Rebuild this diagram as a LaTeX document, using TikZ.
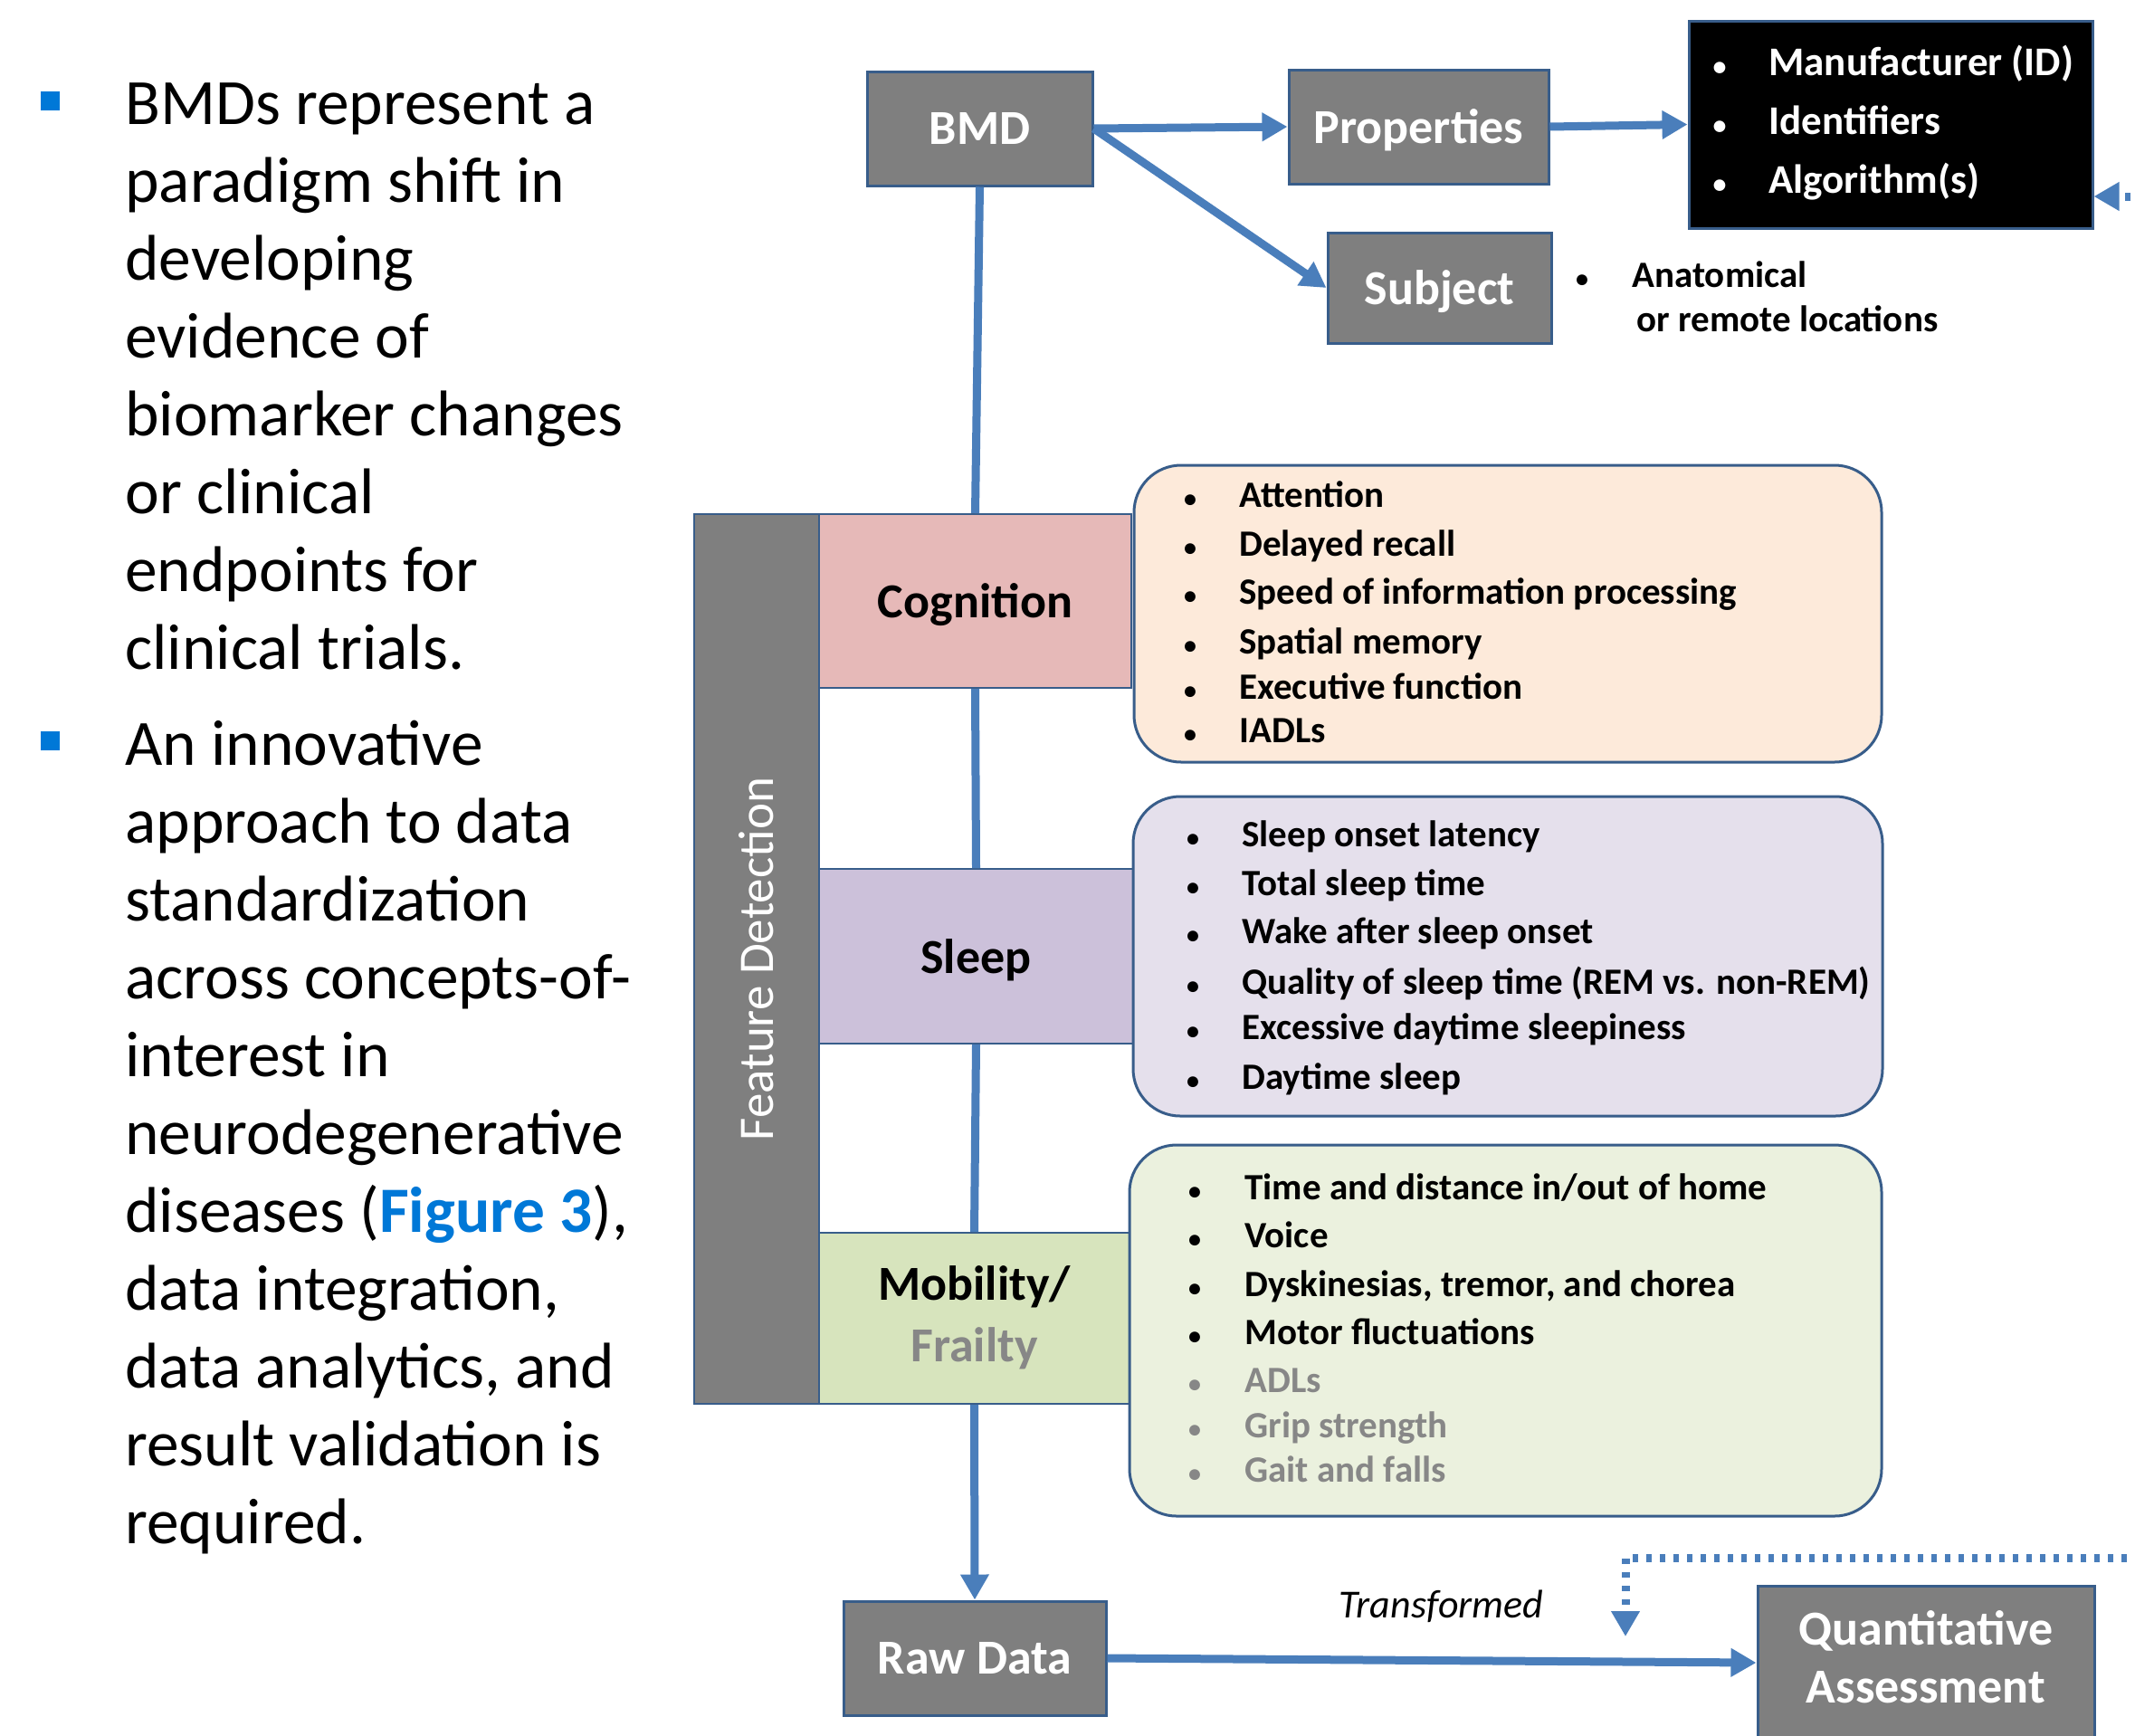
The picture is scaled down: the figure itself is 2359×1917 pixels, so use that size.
\documentclass[tikz,border=0pt]{standalone}
\usepackage{fontspec}
\setmainfont{Carlito}
\usetikzlibrary{arrows.meta}
\definecolor{arrowblue}{RGB}{74,126,187}
\definecolor{boxgray}{RGB}{127,127,127}
\definecolor{edgeblue}{RGB}{56,93,138}
\definecolor{bulletblue}{RGB}{0,120,215}
\definecolor{cogcat}{RGB}{230,185,184}
\definecolor{coglist}{RGB}{253,234,218}
\definecolor{slpcat}{RGB}{204,193,218}
\definecolor{slplist}{RGB}{229,224,236}
\definecolor{mobcat}{RGB}{215,228,189}
\definecolor{moblist}{RGB}{235,241,222}
\definecolor{fadedtext}{RGB}{135,135,135}
\begin{document}
\begin{tikzpicture}[x=0.5pt,y=-0.5pt,
  gbox/.style={draw=edgeblue, line width=1.5pt, fill=boxgray, inner sep=0pt, text=white, font=\fontsize{27}{32}\selectfont\bfseries},
  catbox/.style={draw=edgeblue, line width=1pt, inner sep=0pt, font=\fontsize{27}{34}\selectfont\bfseries},
  nodepth/.style={text depth=0pt},
  listbox/.style={draw=edgeblue, line width=1.5pt, rounded corners=26pt, inner sep=0pt},
  conn/.style={draw=arrowblue, line width=4.5pt},
  arr/.style={conn, -{Triangle[length=14pt,width=15pt]}},
  fb/.style={draw=arrowblue, line width=4.5pt, dash pattern=on 2.8pt off 4.7pt, -{Triangle[length=14pt,width=15pt]}},
  bul/.style={anchor=base, inner sep=0pt, font=\fontsize{14}{18}\selectfont\bfseries},
  itm/.style={anchor=base west, inner sep=0pt, font=\fontsize{20.5}{24}\selectfont\bfseries},
  wbul/.style={anchor=base, inner sep=0pt, text=white, font=\fontsize{15}{18}\selectfont\bfseries},
  witm/.style={anchor=base west, inner sep=0pt, text=white, font=\fontsize{22.5}{26}\selectfont\bfseries},
  sqb/.style={fill=bulletblue, minimum size=10.5pt, inner sep=0pt},
  para/.style={anchor=base west, inner sep=0pt, font=\fontsize{35.7}{43}\selectfont}
]
\useasboundingbox (0,0) rectangle (2359,1917);
\fill[white] (0,0) rectangle (2359,1917);

% left text
\node[sqb] (sq1) at (55.5,111.5) {};
\node[para] (p1) at (138,137) {\parbox[t]{340pt}{\raggedright
BMDs represent a\\paradigm shift in\\developing\\evidence of\\biomarker changes\\or clinical\\endpoints for\\clinical trials.}};
\node[sqb] (sq2) at (55.5,818.5) {};
\node[para] (p2) at (138,845) {\parbox[t]{340pt}{\raggedright
An innovative\\approach to data\\standardization\\across concepts-of-\\interest in\\neurodegenerative\\diseases ({\bfseries\color{bulletblue}Figure 3}),\\data integration,\\data analytics, and\\result validation is\\required.}};

% top boxes
\node[gbox, minimum width=124.5pt, minimum height=63pt] (bmd) at (1082.5,142) {BMD};
\node[gbox, nodepth, minimum width=143.5pt, minimum height=63pt] (prop) at (1567.5,140) {Properties};
\node[gbox, nodepth, minimum width=123.5pt, minimum height=61pt] (subj) at (1590.5,318) {Subject};
\node[draw=edgeblue, line width=1.5pt, fill=black, inner sep=0pt, minimum width=223pt, minimum height=114.5pt] (ident) at (2089,137.5) {};
\foreach \y/\t [count=\i] in {83/{Manufacturer (ID)}, 148/{Identifiers}, 213/{Algorithm(s)}}{
  \node[wbul] (ib\i) at (1900,\y) {•};
  \node[witm] (it\i) at (1954,\y) {\t};
}
\node[bul] (sb) at (1748,317) {•};
\node[itm] (s1) at (1803,317) {Anatomical};
\node[itm] (s2) at (1808,366) {or remote locations};

% feature detection column
\node[draw=edgeblue, line width=1pt, fill=boxgray, inner sep=0pt, minimum width=69pt, minimum height=491.5pt] (fd) at (836,1059.5) {};
\node[rotate=90, text=white, inner sep=0pt, font=\fontsize{27.5}{33}\selectfont] (fdt) at (fd.center) {Feature Detection};

% category boxes
\node[catbox, nodepth, fill=cogcat, minimum width=172.5pt, minimum height=96pt] (cog) at (1077.5,664) {Cognition};
\node[catbox, nodepth, fill=slpcat, minimum width=173.5pt, minimum height=96.5pt] (slp) at (1078.5,1056.5) {Sleep};
\node[catbox, fill=mobcat, minimum width=171.5pt, minimum height=94.5pt] (mob) at (1076.5,1456.5) {\begin{tabular}{@{}c@{}}Mobility/\\\textcolor{fadedtext}{Frailty}\end{tabular}};

% list boxes
\node[listbox, fill=coglist, minimum width=413pt, minimum height=164pt] (cogl) at (1666,678) {};
\node[listbox, fill=slplist, minimum width=414pt, minimum height=176.5pt] (slpl) at (1666,1056.5) {};
\node[listbox, fill=moblist, minimum width=415.5pt, minimum height=205pt] (mobl) at (1663.5,1470) {};

\foreach \y/\t [count=\i] in {560/{Attention}, 614/{Delayed recall}, 667/{Speed of information processing}, 722/{Spatial memory}, 772/{Executive function}, 820/{IADLs}}{
  \node[bul] (cb\i) at (1315,\y) {•};
  \node[itm] (ct\i) at (1369,\y) {\t};
}
\foreach \y/\t [count=\i] in {935/{Sleep onset latency}, 989/{Total sleep time}, 1042/{Wake after sleep onset}, 1098/{Quality of sleep time (REM vs. non-REM)}, 1148/{Excessive daytime sleepiness}, 1203/{Daytime sleep}}{
  \node[bul] (sb\i) at (1318,\y) {•};
  \node[itm] (st\i) at (1372,\y) {\t};
}
\foreach \y/\t [count=\i] in {1325/{Time and distance in/out of home}, 1378/{Voice}, 1432/{Dyskinesias, tremor, and chorea}, 1485/{Motor fluctuations}}{
  \node[bul] (mb\i) at (1320,\y) {•};
  \node[itm] (mt\i) at (1375,\y) {\t};
}
\foreach \y/\t [count=\i from 5] in {1538/{ADLs}, 1588/{Grip strength}, 1637/{Gait and falls}}{
  \node[bul, text=fadedtext] (mb\i) at (1320,\y) {•};
  \node[itm, text=fadedtext] (mt\i) at (1375,\y) {\t};
}

% bottom boxes
\node[gbox, minimum width=145pt, minimum height=63pt] (raw) at (1077,1832) {Raw Data};
\node[gbox, minimum width=186pt, minimum height=85pt] (qa) at (2128,1837) {\begin{tabular}{@{}c@{}}Quantitative\\Assessment\end{tabular}};
\node[anchor=base west, inner sep=0pt, font=\fontsize{22}{26}\selectfont\itshape] (tr) at (1479,1787) {Transformed};

% connectors
\draw[arr] (bmd.east) -- (prop.west);
\draw[arr] (bmd.east) -- (subj.west);
\draw[arr] (prop.east) -- (ident.west);
\draw[conn] (bmd.south) -- (cog.north);
\draw[conn] (cog.south) -- (slp.north);
\draw[conn] (slp.south) -- (mob.north);
\draw[arr] (mob.south) -- (raw.north);
\draw[arr] (raw.east) -- (qa.west);

% feedback (dotted)
\coordinate (fbC) at (2440,1721);
\coordinate (fbTop) at (2440,217);
\coordinate (fbDrop) at (1796,1808);
\draw[fb] (fbC) -| (fbDrop);
\draw[fb] (fbC) -- (fbTop) -- (ident.east |- fbTop);
\end{tikzpicture}
\end{document}
